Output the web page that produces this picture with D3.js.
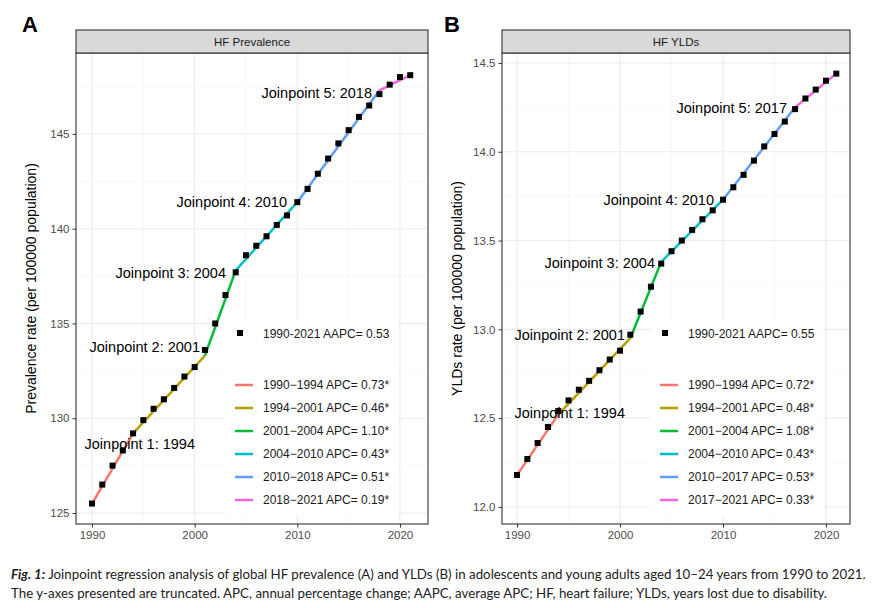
<!DOCTYPE html>
<html><head><meta charset="utf-8">
<script src="https://cdn.jsdelivr.net/npm/d3@7"></script>
<style>body{margin:0;background:#fff}</style></head>
<body><svg id="c" width="886" height="608"></svg>
<script>
const years = d3.range(1990, 2022);
const prevalence = [125.5,126.5,127.5,128.3,129.2,129.9,130.5,131.0,131.6,132.2,132.7,133.6,135.0,136.5,137.7,138.6,139.1,139.6,140.2,140.7,141.4,142.1,142.9,143.7,144.5,145.2,145.9,146.5,147.1,147.6,148.0,148.1];
const ylds = [12.18,12.27,12.36,12.45,12.54,12.60,12.66,12.71,12.77,12.83,12.88,12.97,13.10,13.24,13.37,13.44,13.50,13.56,13.62,13.67,13.73,13.80,13.87,13.95,14.03,14.10,14.17,14.24,14.30,14.35,14.40,14.44];
const prevJoinYears = [1990,1994,2001,2004,2010,2018,2021];
const prevFit = [125.5,129.2,133.3,137.8,141.4,147.3,148.1];
const yldJoinYears = [1990,1994,2001,2004,2010,2017,2021];
const yldFit = [12.18,12.52,12.95,13.38,13.73,14.25,14.44];
const segColors = ["#F8766D","#B79F00","#00BA38","#00BFC4","#619CFF","#F564E3"];
const prevLegend = ["1990\u22121994 APC= 0.73*","1994\u22122001 APC= 0.46*","2001\u22122004 APC= 1.10*","2004\u22122010 APC= 0.43*","2010\u22122018 APC= 0.51*","2018\u22122021 APC= 0.19*"];
const yldLegend = ["1990\u22121994 APC= 0.72*","1994\u22122001 APC= 0.48*","2001\u22122004 APC= 1.08*","2004\u22122010 APC= 0.43*","2010\u22122017 APC= 0.53*","2017\u22122021 APC= 0.33*"];
const prevAAPC = "1990-2021 AAPC= 0.53", yldAAPC = "1990-2021 AAPC= 0.55";
const prevTicks = [125,130,135,140,145], yldTicks = [12.0,12.5,13.0,13.5,14.0,14.5];
const xTicks = [1990,2000,2010,2020];

const svg = d3.select("#c");
const F = "Liberation Sans, Arial, sans-serif";

function panel(o){
  const g = svg.append("g");
  const x = d3.scaleLinear().domain(o.xd).range([o.l,o.r]);
  const y = d3.scaleLinear().domain(o.yd).range([o.b,o.t]);
  g.append("rect").attr("x",o.l).attr("y",o.t).attr("width",o.r-o.l).attr("height",o.b-o.t).attr("fill","#fff");
  o.yMinor.forEach(v=>g.append("line").attr("x1",o.l).attr("x2",o.r).attr("y1",y(v)).attr("y2",y(v)).attr("stroke","#F2F2F2").attr("stroke-width",0.6));
  [1995,2005,2015].forEach(v=>g.append("line").attr("y1",o.t).attr("y2",o.b).attr("x1",x(v)).attr("x2",x(v)).attr("stroke","#F2F2F2").attr("stroke-width",0.6));
  o.yTicks.forEach(v=>g.append("line").attr("x1",o.l).attr("x2",o.r).attr("y1",y(v)).attr("y2",y(v)).attr("stroke","#EBEBEB").attr("stroke-width",1.1));
  xTicks.forEach(v=>g.append("line").attr("y1",o.t).attr("y2",o.b).attr("x1",x(v)).attr("x2",x(v)).attr("stroke","#EBEBEB").attr("stroke-width",1.1));
  g.append("rect").attr("x",o.lgx).attr("y",320).attr("width",173).attr("height",195).attr("fill","#fff");
  for(let i=0;i<6;i++){
    g.append("line").attr("x1",x(o.jy[i])).attr("x2",x(o.jy[i+1])).attr("y1",y(o.fit[i])).attr("y2",y(o.fit[i+1]))
      .attr("stroke",segColors[i]).attr("stroke-width",2.5);
  }
  g.selectAll(".pt").data(o.vals).join("rect").attr("x",(d,i)=>x(years[i])-3).attr("y",d=>y(d)-3).attr("width",6).attr("height",6).attr("fill","#000");
  o.labels.forEach(lb=>g.append("text").attr("x",lb[0]).attr("y",lb[1]).attr("text-anchor","end").attr("font-family",F).attr("font-size",14.5).text(lb[2]));
  g.append("rect").attr("x",o.lgx+12).attr("y",330).attr("width",6).attr("height",6).attr("fill","#000");
  g.append("text").attr("x",o.lgx+38).attr("y",338).attr("font-family",F).attr("font-size",12).attr("fill","#1a1a1a").text(o.aapc);
  o.leg.forEach((t,i)=>{
    const yy=385+i*23;
    g.append("line").attr("x1",o.lgx+10).attr("x2",o.lgx+28).attr("y1",yy).attr("y2",yy).attr("stroke",segColors[i]).attr("stroke-width",2.5);
    g.append("text").attr("x",o.lgx+38).attr("y",yy+4).attr("font-family",F).attr("font-size",12).attr("fill","#1a1a1a").text(t);
  });
  g.append("rect").attr("x",o.l).attr("y",o.t).attr("width",o.r-o.l).attr("height",o.b-o.t).attr("fill","none").attr("stroke","#333").attr("stroke-width",1.1);
  g.append("rect").attr("x",o.l).attr("y",30).attr("width",o.r-o.l).attr("height",o.t-30).attr("fill","#D9D9D9").attr("stroke","#333").attr("stroke-width",1.1);
  g.append("text").attr("x",(o.l+o.r)/2).attr("y",46).attr("text-anchor","middle").attr("font-family",F).attr("font-size",11.5).attr("fill","#1a1a1a").text(o.title);
  const ax = g.append("g").attr("transform",`translate(0,${o.b})`).call(d3.axisBottom(x).tickValues(xTicks).tickFormat(d3.format("d")).tickSize(3.5));
  const ay = g.append("g").attr("transform",`translate(${o.l},0)`).call(d3.axisLeft(y).tickValues(o.yTicks).tickFormat(o.fmt).tickSize(3.5));
  [ax,ay].forEach(a=>{a.select(".domain").remove();a.selectAll("line").attr("stroke","#333");a.selectAll("text").attr("font-family",F).attr("font-size",11.5).attr("fill","#4D4D4D");});
  g.append("text").attr("transform",`translate(${o.l-40},${(o.t+o.b)/2}) rotate(-90)`).attr("text-anchor","middle").attr("font-family",F).attr("font-size",14).text(o.ytitle);
}

panel({l:76,r:428,t:53,b:524,xd:[1988.44,2022.73],yd:[124.42,149.27],vals:prevalence,jy:prevJoinYears,fit:prevFit,
  yTicks:prevTicks,yMinor:[127.5,132.5,137.5,142.5,147.5],fmt:d3.format("d"),lgx:225,leg:prevLegend,aapc:prevAAPC,
  title:"HF Prevalence",ytitle:"Prevalence rate (per 100000 population)",
  labels:[[195,449,"Joinpoint 1: 1994"],[200,352,"Joinpoint 2: 2001"],[226,278,"Joinpoint 3: 2004"],[287,207,"Joinpoint 4: 2010"],[372,98,"Joinpoint 5: 2018"]]});
panel({l:502,r:850,t:53,b:524,xd:[1988.54,2022.33],yd:[11.904,14.556],vals:ylds,jy:yldJoinYears,fit:yldFit,
  yTicks:yldTicks,yMinor:[12.25,12.75,13.25,13.75,14.25],fmt:d3.format(".1f"),lgx:650,leg:yldLegend,aapc:yldAAPC,
  title:"HF YLDs",ytitle:"YLDs rate (per 100000 population)",
  labels:[[625,418,"Joinpoint 1: 1994"],[625,340,"Joinpoint 2: 2001"],[655,268,"Joinpoint 3: 2004"],[714,205,"Joinpoint 4: 2010"],[787,113,"Joinpoint 5: 2017"]]});

svg.append("text").attr("x",22).attr("y",32).attr("font-family",F).attr("font-weight","bold").attr("font-size",22).text("A");
svg.append("text").attr("x",444).attr("y",32).attr("font-family",F).attr("font-weight","bold").attr("font-size",22).text("B");
const cap = svg.append("text").attr("x",11).attr("y",579).attr("font-family","Lato, sans-serif").attr("font-size",13.3).attr("fill","#222");
cap.append("tspan").attr("font-weight","bold").attr("font-style","italic").text("Fig. 1:");
cap.append("tspan").text(" Joinpoint regression analysis of global HF prevalence (A) and YLDs (B) in adolescents and young adults aged 10\u201324 years from 1990 to 2021.");
svg.append("text").attr("x",11).attr("y",598).attr("font-family","Lato, sans-serif").attr("font-size",13.3).attr("fill","#222")
  .text("The y-axes presented are truncated. APC, annual percentage change; AAPC, average APC; HF, heart failure; YLDs, years lost due to disability.");
</script></body></html>
